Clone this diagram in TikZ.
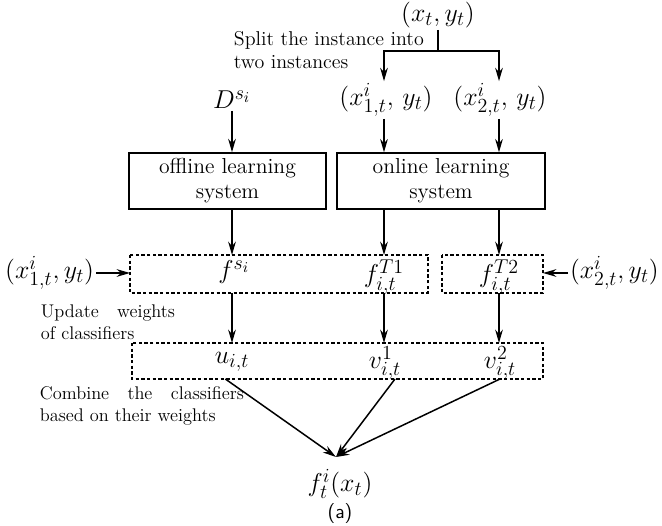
\RequirePackage{fix-cm}
\documentclass[tikz,border=0pt]{standalone}
\usepackage{amsmath}
\usetikzlibrary{arrows.meta}
\DeclareMathSizes{15.5}{15.5}{12}{9}
\tikzset{>={Stealth[length=8pt,width=4.6pt]}}
\tikzset{
    sysbox/.style={draw,line width=1.1pt,minimum height=32pt,align=center,font=\fontsize{13}{15}\selectfont},
    clsbox/.style={draw,dash pattern=on 2pt off 1.4pt,line width=0.8pt},
    mth/.style={font=\fontsize{15.5}{18}\selectfont,inner sep=1pt},
    note/.style={align=left,anchor=west,font=\fontsize{11}{13}\selectfont},
    flow/.style={->,line width=0.9pt}
}

\begin{document}
\begin{tikzpicture}[x=0.6pt,y=-0.6pt]
            \useasboundingbox (0,0) rectangle (662,526);
            \node[mth] (xy) at (438,15) {$(x_t,y_t)$};
            \coordinate (fork) at (438,51);
            \node[note,font=\fontsize{12}{14}\selectfont] (split) at (228,50) {Split the instance into\\two instances};
            \node[mth] (D)  at (232,100) {$D^{s_i}$};
            \node[mth] (x1) at (386,100) {$(x^i_{1,t},\,y_t)$};
            \node[mth] (x2) at (500,100) {$(x^i_{2,t},\,y_t)$};
            \node[sysbox,minimum width=118pt] (offline) at (227.5,181) {offline learning\\system};
            \node[sysbox,minimum width=125pt] (online)  at (441,181) {online learning\\system};
            \coordinate (a1) at (130,255); \coordinate (a2) at (428,293);
            \coordinate (b1) at (442,255); \coordinate (b2) at (543,293);
            \coordinate (c1) at (132,343); \coordinate (c2) at (543,379);
            \draw[clsbox] (a1) rectangle (a2);
            \draw[clsbox] (b1) rectangle (b2);
            \draw[clsbox] (c1) rectangle (c2);
            \node[mth] (fs)  at (234,272) {$f^{s_i}$};
            \node[mth] (fT1) at (384,277) {$f^{T1}_{i,t}$};
            \node[mth] (fT2) at (499,277) {$f^{T2}_{i,t}$};
            \node[mth] (u)  at (232,362) {$u_{i,t}$};
            \node[mth] (v1) at (385,363) {$v^1_{i,t}$};
            \node[mth] (v2) at (500,363) {$v^2_{i,t}$};
            \node[mth,anchor=east] (in1) at (96,273) {$(x^i_{1,t},y_t)$};
            \node[mth,anchor=west] (in2) at (568,273) {$(x^i_{2,t},y_t)$};
            \node[note] (upd) at (35,322) {Update\quad weights\\of classifiers};
            \node[note] (comb) at (34,406) {Combine\quad the\quad classifiers\\based on their weights};
            \coordinate (tip) at (336,457);
            \node[mth] (out) at (340,484) {$f^i_t(x_t)$};
            \node[font=\sffamily\large] (cap) at (340,514) {(a)};
            \draw[line width=0.9pt] (xy) -- (fork);
            \draw[flow] (fork) -| (fT1 |- x1.north);
            \draw[flow] (fork) -| (fT2 |- x2.north);
            \draw[flow] (D)  -- (D |- offline.north);
            \draw[flow] (fT1 |- x1.south) -- (fT1 |- online.north);
            \draw[flow] (fT2 |- x2.south) -- (fT2 |- online.north);
            \draw[flow] (D |- offline.south) -- (D |- a1);
            \draw[flow] (fT1 |- online.south) -- (fT1 |- a1);
            \draw[flow] (fT2 |- online.south) -- (fT2 |- b1);
            \draw[flow] (in1) -- (a1 |- in1);
            \draw[flow] (in2) -- (b2 |- in2);
            \draw[flow] (D |- a2) -- (D |- c1);
            \draw[flow] (fT1 |- a2) -- (fT1 |- c1);
            \draw[flow] (fT2 |- b2) -- (fT2 |- c1);
            \draw[flow] ([xshift=-4pt]u |- c2) -- (tip);
            \draw[flow] ([xshift=6pt]v1 |- c2) -- (tip);
            \draw[flow] (v2 |- c2) -- (tip);
        \end{tikzpicture}
\end{document}
